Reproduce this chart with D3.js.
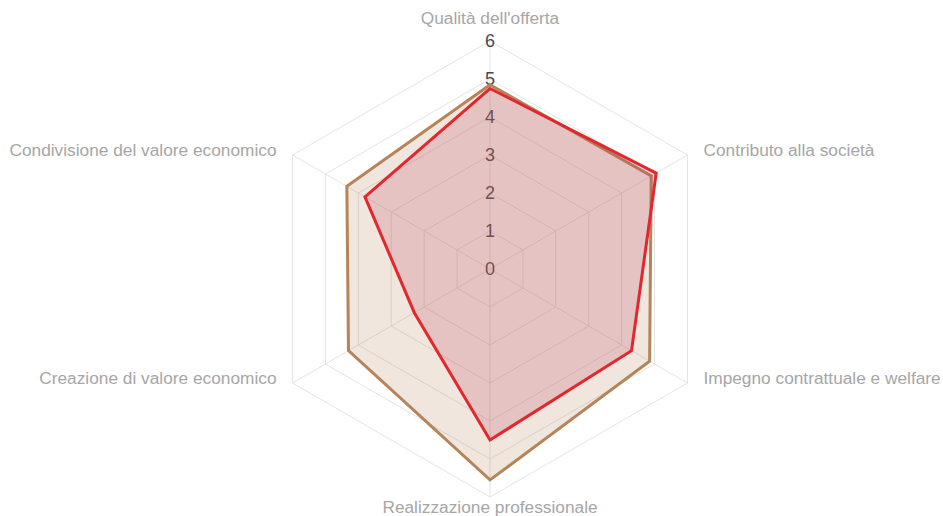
<!DOCTYPE html>
<html>
<head>
<meta charset="utf-8">
<script src="https://cdn.jsdelivr.net/npm/d3@7"></script>
<style>
  body { margin: 0; background: #fff; }
  svg { display: block; font-family: "Liberation Sans", Arial, sans-serif; }
</style>
</head>
<body>
<svg id="chart" width="943" height="516"></svg>
<script>
(function () {
  "use strict";

  // axes, clockwise from the top
  let axes = [
    "Qualità dell'offerta",
    "Contributo alla società",
    "Impegno contrattuale e welfare",
    "Realizzazione professionale",
    "Creazione di valore economico",
    "Condivisione del valore economico"
  ]
  let brownValues = [4.85, 4.9, 4.85, 5.55, 4.3, 4.35]
  let redValues = [4.75, 5.05, 4.3, 4.5, 2.3, 3.8]
  let ticks = [0, 1, 2, 3, 4, 5, 6]

  let svg = d3.select('#chart')
  let cx = 490, cy = 269
  let r = d3.scaleLinear().domain([0, 6]).range([0, 228])
  let angle = d3.scaleLinear().domain([0, axes.length]).range([-Math.PI / 2, Math.PI * 1.5])

  function pt(i, v){
    let a = angle(i)
    return [cx + r(v) * Math.cos(a), cy + r(v) * Math.sin(a)]
  }

  // grid hexagons
  ticks.filter(t => t > 0).forEach(function(t){
    svg.append('polygon')
      .attr('points', axes.map((d, i) => pt(i, t).join(',')).join(' '))
      .attr('fill', 'none')
      .attr('stroke', '#e4e4e4')
      .attr('stroke-width', 1)
  })

  // spokes
  axes.forEach(function(d, i){
    let p = pt(i, 6)
    svg.append('line')
      .attr('x1', cx).attr('y1', cy)
      .attr('x2', p[0]).attr('y2', p[1])
      .attr('stroke', '#e4e4e4')
  })

  // tick labels (under the data, like the original)
  svg.selectAll('text.tick').data(ticks).enter().append('text')
    .attr('class', 'tick')
    .attr('x', cx)
    .attr('y', d => cy - r(d))
    .attr('dy', '0.36em')
    .attr('text-anchor', 'middle')
    .attr('font-size', 18)
    .attr('fill', '#4a4a4a')
    .text(d => d)

  // point labels
  axes.forEach(function(d, i){
    let p = pt(i, 6)
    let a = angle(i)
    let cos = Math.cos(a)
    let x = p[0], y = p[1], anchor = 'middle'
    if (Math.abs(cos) < 0.01){
      y = Math.sin(a) < 0 ? p[1] - 23 : p[1] + 10
    } else {
      anchor = cos > 0 ? 'start' : 'end'
      x = p[0] + (cos > 0 ? 16 : -16)
      y = p[1] - 5
    }
    svg.append('text')
      .attr('x', x).attr('y', y)
      .attr('dy', '0.35em')
      .attr('text-anchor', anchor)
      .attr('font-size', 17.3)
      .attr('fill', '#a6a6a6')
      .text(d)
  })

  let line = d3.line().curve(d3.curveLinearClosed)

  function series(values, stroke, fill){
    svg.append('path')
      .attr('d', line(values.map((v, i) => pt(i, v))))
      .attr('fill', fill)
      .attr('stroke', stroke)
      .attr('stroke-width', 3)
      .attr('stroke-linejoin', 'miter')
  }

  series(brownValues, '#b5845a', 'rgba(181,132,90,0.2)')
  series(redValues, '#e0282e', 'rgba(190,55,92,0.2)')
}());
</script>
</body>
</html>
